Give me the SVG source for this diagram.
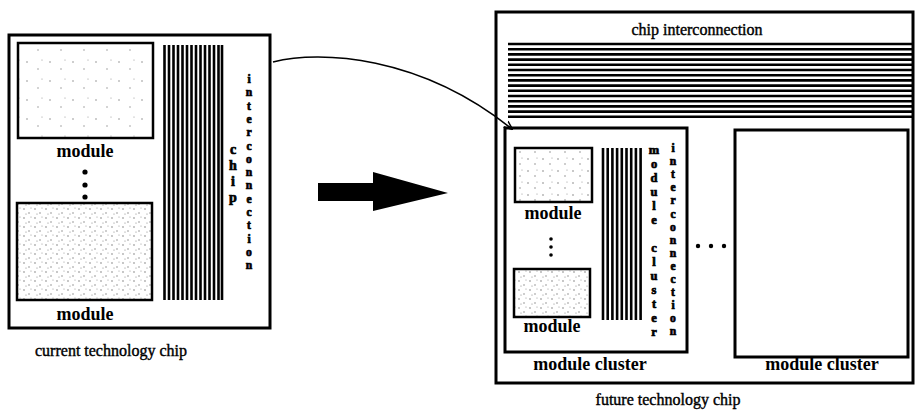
<svg xmlns="http://www.w3.org/2000/svg" width="917" height="413" viewBox="0 0 917 413">
<defs>
<style>
.box{fill:none;stroke:#000;stroke-width:3}
.mod{stroke:#000;stroke-width:2.5}
.wire{stroke:#000;stroke-width:2.6}
.lbl{font-family:"Liberation Serif","Times New Roman",serif;font-size:18px;font-weight:bold;fill:#000;text-anchor:middle}
.cap{font-family:"Liberation Serif","Times New Roman",serif;font-size:16px;fill:#000;stroke:#000;stroke-width:0.4;text-anchor:middle}
.vt{font-family:"Liberation Serif","Times New Roman",serif;font-weight:bold;fill:#000;stroke:#000;stroke-width:0.7;text-anchor:middle}
.v1{font-size:11.6px}
.v2{font-size:12.5px}
.v3{font-size:14px}
.conn{fill:none;stroke:#000;stroke-width:1.6}
</style>
<pattern id="sparse" width="23" height="19" patternUnits="userSpaceOnUse">
<rect width="23" height="19" fill="#fff"/>
<circle cx="4" cy="5" r="0.7" fill="#777"/><circle cx="15" cy="12" r="0.7" fill="#888"/><circle cx="19" cy="3" r="0.6" fill="#999"/>
</pattern>
<pattern id="dense" width="11" height="9" patternUnits="userSpaceOnUse">
<rect width="11" height="9" fill="#fff"/>
<circle cx="2" cy="2" r="0.7" fill="#666"/><circle cx="7" cy="6" r="0.7" fill="#777"/><circle cx="9" cy="1" r="0.6" fill="#999"/><circle cx="4" cy="7" r="0.6" fill="#888"/>
</pattern>
<pattern id="medium" width="15" height="12" patternUnits="userSpaceOnUse">
<rect width="15" height="12" fill="#fff"/>
<circle cx="3" cy="3" r="0.7" fill="#666"/><circle cx="10" cy="8" r="0.7" fill="#777"/><circle cx="12" cy="2" r="0.6" fill="#999"/>
</pattern>
<pattern id="vsparse" width="41" height="37" patternUnits="userSpaceOnUse">
<rect width="41" height="37" fill="#fff"/>
<circle cx="7" cy="9" r="0.7" fill="#888"/><circle cx="29" cy="25" r="0.7" fill="#999"/>
</pattern>
<marker id="ah" viewBox="0 0 10 10" refX="9" refY="5" markerWidth="9" markerHeight="9" markerUnits="userSpaceOnUse" orient="auto">
<path d="M0,1 L10,5 L0,9" fill="none" stroke="#000" stroke-width="1.6"/>
</marker>
</defs>
<rect width="917" height="413" fill="#fff"/>

<g id="current-chip">
<rect class="box" x="9" y="35" width="261" height="293"/>
<rect class="mod" x="18" y="43" width="135" height="95" fill="url(#sparse)"/>
<text class="lbl" x="85" y="157">module</text>
<circle cx="85" cy="172" r="2.6"/><circle cx="85" cy="185" r="2.6"/><circle cx="85" cy="197" r="2.6"/>
<rect class="mod" x="17" y="203" width="135" height="97" fill="url(#dense)"/>
<text class="lbl" x="85" y="320">module</text>
<g class="wire">
<line x1="164.5" y1="45" x2="164.5" y2="300"/><line x1="169" y1="45" x2="169" y2="300"/><line x1="173.5" y1="45" x2="173.5" y2="300"/><line x1="178" y1="45" x2="178" y2="300"/><line x1="182.5" y1="45" x2="182.5" y2="300"/><line x1="187" y1="45" x2="187" y2="300"/><line x1="191.5" y1="45" x2="191.5" y2="300"/><line x1="196" y1="45" x2="196" y2="300"/><line x1="200.5" y1="45" x2="200.5" y2="300"/><line x1="205" y1="45" x2="205" y2="300"/><line x1="209.5" y1="45" x2="209.5" y2="300"/><line x1="214" y1="45" x2="214" y2="300"/><line x1="218.5" y1="45" x2="218.5" y2="300"/><line x1="222" y1="45" x2="222" y2="300"/>
</g>
<g class="vt v3">
<text x="233" y="154">c</text><text x="233" y="170">h</text><text x="233" y="186">i</text><text x="233" y="202">p</text>
</g>
<g class="vt v1">
<text x="249" y="83">i</text><text x="249" y="96.3">n</text><text x="249" y="109.6">t</text><text x="249" y="122.9">e</text><text x="249" y="136.2">r</text><text x="249" y="149.5">c</text><text x="249" y="162.8">o</text><text x="249" y="176.1">n</text><text x="249" y="189.4">n</text><text x="249" y="202.7">e</text><text x="249" y="216">c</text><text x="249" y="229.3">t</text><text x="249" y="242.6">i</text><text x="249" y="255.9">o</text><text x="249" y="269.2">n</text>
</g>
<text class="cap" x="111" y="356">current technology chip</text>
</g>

<g id="transform-arrow">
<polygon points="318,183 373,183 373,172 448,193 373,211 373,201 318,201" fill="#000"/>
</g>

<g id="future-chip">
<rect class="box" x="496" y="12" width="417" height="371"/>
<text class="cap" x="697" y="35">chip interconnection</text>
<g class="wire">
<line x1="508" y1="44" x2="913" y2="44"/><line x1="508" y1="49.2" x2="913" y2="49.2"/><line x1="508" y1="54.4" x2="913" y2="54.4"/><line x1="508" y1="59.6" x2="913" y2="59.6"/><line x1="508" y1="64.8" x2="913" y2="64.8"/><line x1="508" y1="70" x2="913" y2="70"/><line x1="508" y1="75.2" x2="913" y2="75.2"/><line x1="508" y1="80.4" x2="913" y2="80.4"/><line x1="508" y1="85.6" x2="913" y2="85.6"/><line x1="508" y1="90.8" x2="913" y2="90.8"/><line x1="508" y1="96" x2="913" y2="96"/><line x1="508" y1="101.2" x2="913" y2="101.2"/><line x1="508" y1="106.4" x2="913" y2="106.4"/><line x1="508" y1="111.6" x2="913" y2="111.6"/><line x1="508" y1="116.8" x2="913" y2="116.8"/>
</g>
<circle cx="698" cy="246" r="2.2"/><circle cx="711" cy="246" r="2.2"/><circle cx="724" cy="246" r="2.2"/>
<text class="cap" x="668" y="405">future technology chip</text>
</g>

<g id="cluster-1">
<rect class="box" x="505" y="128" width="182" height="224"/>
<rect class="mod" x="515" y="148" width="77" height="54" fill="url(#medium)"/>
<text class="lbl" x="553" y="219">module</text>
<circle cx="551" cy="239" r="1.8"/><circle cx="551" cy="247" r="1.8"/><circle cx="551" cy="255" r="1.8"/>
<rect class="mod" x="514" y="269" width="76" height="48" fill="url(#dense)"/>
<text class="lbl" x="552" y="332">module</text>
<g class="wire">
<line x1="603" y1="148" x2="603" y2="320"/><line x1="607.7" y1="148" x2="607.7" y2="320"/><line x1="612.4" y1="148" x2="612.4" y2="320"/><line x1="617.1" y1="148" x2="617.1" y2="320"/><line x1="621.8" y1="148" x2="621.8" y2="320"/><line x1="626.5" y1="148" x2="626.5" y2="320"/><line x1="631.2" y1="148" x2="631.2" y2="320"/><line x1="635.9" y1="148" x2="635.9" y2="320"/><line x1="640.6" y1="148" x2="640.6" y2="320"/>
</g>
<g class="vt v2">
<text x="654" y="154">m</text><text x="654" y="168">o</text><text x="654" y="182">d</text><text x="654" y="196">u</text><text x="654" y="210">l</text><text x="654" y="224">e</text><text x="654" y="252">c</text><text x="654" y="266">l</text><text x="654" y="280">u</text><text x="654" y="294">s</text><text x="654" y="308">t</text><text x="654" y="322">e</text><text x="654" y="336">r</text>
</g>
<g class="vt v1">
<text x="673" y="152">i</text><text x="673" y="165.1">n</text><text x="673" y="178.2">t</text><text x="673" y="191.3">e</text><text x="673" y="204.4">r</text><text x="673" y="217.5">c</text><text x="673" y="230.6">o</text><text x="673" y="243.7">n</text><text x="673" y="256.8">n</text><text x="673" y="269.9">e</text><text x="673" y="283">c</text><text x="673" y="296.1">t</text><text x="673" y="309.2">i</text><text x="673" y="322.3">o</text><text x="673" y="335.4">n</text>
</g>
<text class="lbl" x="590" y="370">module cluster</text>
</g>

<g id="cluster-2">
<rect class="box" x="735" y="130" width="173" height="227" fill="url(#vsparse)"/>
<text class="lbl" x="822" y="370">module cluster</text>
</g>

<g id="connectors">
<path class="conn" d="M273,62 C320,50 420,55 512,129" marker-end="url(#ah)"/>
</g>
</svg>
